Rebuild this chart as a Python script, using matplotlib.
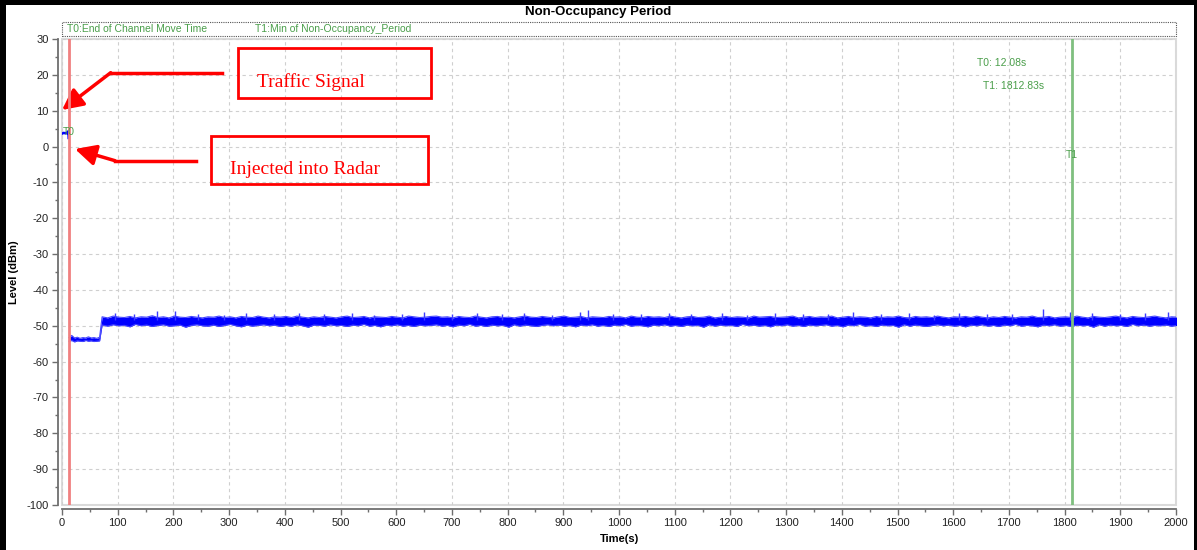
import matplotlib
matplotlib.use("Agg")
import matplotlib.pyplot as plt
import matplotlib.ticker as ticker
from matplotlib.patches import Rectangle
from matplotlib.lines import Line2D

plt.rcParams["axes.unicode_minus"] = False

# 圖面尺寸 (像素)
W, H = 1197, 550

# 標記位置
t0_mark = 12.08
t1_mark = 1812.83

# Traffic signal 小段 (time s, level dBm)
sig_t = [0, 3, 6, 9, 11, 11.5, 12]
sig_v = [3.6, 3.8, 3.7, 3.9, 3.6, 4.3, 2.4]

# 注入雷達後低電平段: 每 5 s 的上緣 / 下緣
low_start = 12.5
low_step = 5
low_hi = [-53.3, -52.7, -53.4, -53.2, -53.5, -53.3, -53.4, -53.1, -53.4, -53.3, -53.5, -53.2]
low_lo = [-54.3, -54.1, -54.5, -54.2, -54.3, -54.4, -54.1, -54.3, -54.2, -54.4, -54.3, -54.2]

# 72 s 之後的雜訊段: 每 10 s 的核心上緣 / 下緣
main_start = 72
main_step = 10
main_hi = [
    -47.5, -47.8, -47.3, -47.6, -47.7, -47.4, -47.8, -47.5, -47.6, -47.2,
    -47.7, -47.5, -47.8, -47.3, -47.6, -47.7, -47.4, -47.6, -47.8, -47.5,
    -47.6, -47.3, -47.7, -47.5, -47.8, -47.4, -47.6, -47.7, -47.3, -47.6,
    -47.8, -47.5, -47.6, -47.4, -47.7, -47.3, -47.6, -47.8, -47.5, -47.7,
    -47.4, -47.6, -47.8, -47.5, -47.3, -47.7, -47.6, -47.4, -47.8, -47.5,
    -47.6, -47.7, -47.4, -47.6, -47.8, -47.3, -47.5, -47.7, -47.6, -47.4,
    -47.3, -47.6, -47.5, -47.8, -47.4, -47.6, -47.7, -47.3, -47.6, -47.8,
    -47.5, -47.4, -47.7, -47.6, -47.8, -47.5, -47.3, -47.6, -47.7, -47.4,
    -47.6, -47.8, -47.5, -47.3, -47.7, -47.6, -47.4, -47.8, -47.5, -47.6,
    -47.7, -47.4, -47.6, -47.5, -47.8, -47.3, -47.6, -47.7, -47.4, -47.6,
    -47.5, -47.7, -47.3, -47.6, -47.8, -47.5, -47.4, -47.7, -47.6, -47.3,
    -47.8, -47.6, -47.4, -47.7, -47.5, -47.6, -47.8, -47.3, -47.6, -47.5,
    -47.4, -47.7, -47.6, -47.5, -47.3, -47.8, -47.6, -47.4, -47.7, -47.5,
    -47.6, -47.3, -47.8, -47.6, -47.4, -47.7, -47.5, -47.6, -47.8, -47.4,
    -47.7, -47.5, -47.6, -47.3, -47.7, -47.8, -47.4, -47.6, -47.5, -47.7,
    -47.3, -47.6, -47.8, -47.5, -47.6, -47.4, -47.7, -47.3, -47.6, -47.8,
    -47.5, -47.7, -47.4, -47.6, -47.8, -47.5, -47.6, -47.3, -47.7, -47.6,
    -47.4, -47.8, -47.6, -47.5, -47.7, -47.3, -47.6, -47.8, -47.4, -47.6,
    -47.7, -47.5, -47.3, -47.6, -47.8, -47.4, -47.6, -47.7, -47.5, -47.3,
    -47.6, -47.8, -47.5, -47.6,
]
main_lo = [
    -49.8, -50.1, -49.7, -50.0, -49.9, -50.3, -49.6, -50.0, -49.8, -50.2,
    -49.9, -49.7, -50.1, -50.0, -49.8, -50.4, -49.9, -49.7, -50.0, -50.1,
    -49.8, -50.2, -49.9, -49.6, -50.0, -50.3, -49.8, -50.1, -49.9, -49.7,
    -50.0, -49.8, -50.2, -49.9, -50.1, -49.7, -50.0, -50.4, -49.8, -49.9,
    -50.1, -49.7, -50.0, -49.9, -50.2, -49.8, -50.0, -49.6, -50.1, -49.9,
    -50.3, -49.8, -50.0, -49.7, -50.1, -49.9, -50.2, -49.8, -50.0, -49.9,
    -49.7, -50.1, -49.9, -50.3, -49.8, -50.0, -49.6, -50.1, -49.9, -50.2,
    -49.8, -50.0, -49.9, -50.4, -49.7, -50.1, -49.8, -50.0, -50.2, -49.9,
    -49.7, -50.0, -49.8, -50.1, -49.9, -50.3, -49.8, -50.0, -49.7, -50.1,
    -49.9, -50.2, -49.8, -50.0, -49.6, -50.1, -49.9, -50.0, -50.3, -49.8,
    -50.0, -49.7, -50.1, -49.9, -50.2, -49.8, -50.0, -49.9, -50.4, -49.7,
    -50.1, -49.8, -50.0, -49.9, -50.2, -49.6, -50.0, -49.8, -50.1, -49.9,
    -50.3, -49.8, -50.0, -49.7, -50.1, -49.9, -50.2, -49.8, -50.0, -49.9,
    -49.7, -50.1, -49.9, -50.3, -49.8, -50.0, -49.6, -50.1, -49.9, -50.2,
    -49.8, -50.0, -49.9, -50.4, -49.7, -50.1, -49.8, -50.0, -50.2, -49.9,
    -49.7, -50.0, -49.8, -50.1, -49.9, -50.3, -49.8, -50.0, -49.7, -50.1,
    -49.9, -50.2, -49.8, -50.0, -49.6, -50.1, -49.9, -50.0, -50.3, -49.8,
    -50.0, -49.7, -50.1, -49.9, -50.2, -49.8, -50.0, -49.9, -50.4, -49.7,
    -50.1, -49.8, -50.0, -49.9, -50.2, -49.6, -50.0, -49.8, -50.1, -49.9,
    -50.0, -49.8, -50.1, -49.9,
]

# 雜訊尖峰 (time s, peak dBm)
spike_t = [95, 130, 170, 203, 245, 290, 330, 380, 425, 470, 520, 560, 610, 650, 700,
           745, 790, 830, 880, 930, 945, 990, 1040, 1090, 1130, 1185, 1230, 1280, 1330,
           1375, 1420, 1470, 1520, 1565, 1610, 1660, 1705, 1762, 1810, 1850, 1900, 1945, 1985]
spike_v = [-46.5, -46.8, -45.8, -46.0, -46.6, -46.9, -46.4, -46.7, -46.3, -46.8, -46.5,
           -46.9, -46.6, -46.2, -46.8, -46.5, -46.7, -46.4, -46.9, -46.1, -45.7, -46.6,
           -46.8, -46.3, -46.7, -46.5, -46.9, -46.4, -46.6, -46.8, -46.2, -46.7, -46.5,
           -46.9, -46.4, -46.6, -46.8, -45.2, -46.1, -46.5, -46.7, -46.4, -46.2]

GREEN = "#4a9e4a"
SANS = "Liberation Sans"
SERIF = "Liberation Serif"


def px(x, y):
    # 像素座標 (左上原點) 轉成 figure fraction
    return x / W, 1 - y / H


fig = plt.figure(figsize=(W / 100, H / 100), dpi=100)
ax = fig.add_axes([62 / W, 1 - 505 / H, (1176 - 62) / W, (505 - 39) / H])

ax.set_xlim(0, 2000)
ax.set_ylim(-100, 30)
ax.xaxis.set_major_locator(ticker.MultipleLocator(100))
ax.xaxis.set_minor_locator(ticker.MultipleLocator(50))
ax.yaxis.set_major_locator(ticker.MultipleLocator(10))
ax.yaxis.set_minor_locator(ticker.MultipleLocator(5))

ax.grid(True, which="major", color="#cfcfcf", linestyle=(0, (3, 3)), lw=0.8)
ax.set_axisbelow(True)

# 外框與軸線
for s in ("top", "right"):
    ax.spines[s].set_visible(False)
for s in ("left", "bottom"):
    ax.spines[s].set_position(("outward", 3))
    ax.spines[s].set_color("#6e6e6e")
    ax.spines[s].set_linewidth(1.3)
ax.add_patch(Rectangle((0, 0), 1, 1, transform=ax.transAxes, fill=False,
                       edgecolor="#dadada", lw=1.5, clip_on=False, zorder=0.5))

ax.tick_params(which="major", length=4, width=1, color="#6e6e6e", pad=2.5,
               labelsize=8, labelcolor="#222222")
ax.tick_params(which="minor", length=2.5, width=1, color="#6e6e6e")
for lab in ax.get_xticklabels() + ax.get_yticklabels():
    lab.set_fontfamily(SANS)

# 軌跡: 上下緣之間填滿, 再描邊讓邊緣呈鋸齒
tr_t = [low_start + i * low_step for i in range(len(low_hi))] + \
       [main_start + i * main_step for i in range(len(main_hi))]
tr_hi = low_hi + main_hi
tr_lo = low_lo + main_lo
ax.fill_between(tr_t, tr_lo, tr_hi, color="#0000ff", lw=0, zorder=3)
ax.plot(tr_t, tr_hi, color="#4646ff", lw=0.8, zorder=3)
ax.plot(tr_t, tr_lo, color="#4646ff", lw=0.8, zorder=3)
ax.vlines(spike_t, -48.5, spike_v, color="#3c3cff", lw=1.0, zorder=3)
ax.plot(sig_t, sig_v, color="#0000ff", lw=1.8, zorder=3)

# 標記線
ax.axvline(t0_mark, color="#f08080", lw=2, zorder=4)
ax.axvline(t1_mark, color="#7fbf7f", lw=2, zorder=4)
ax.text(t0_mark, 4, "T0", color=GREEN, fontsize=7.5, family=SANS, ha="center", va="center", zorder=5)
ax.text(t1_mark, -2.4, "T1", color=GREEN, fontsize=7.5, family=SANS, ha="center", va="center", zorder=5)
ax.text(1643, 23.3, f"T0: {t0_mark:.2f}s", color=GREEN, fontsize=7.5, family=SANS, va="center")
ax.text(1653, 16.9, f"T1: {t1_mark:.2f}s", color=GREEN, fontsize=7.5, family=SANS, va="center")

# 上方圖例框
ax.add_patch(Rectangle((0, 1 + 3.5 / 466), 1, 13.5 / 466, transform=ax.transAxes,
                       fill=False, edgecolor="#555555", lw=0.8, linestyle=(0, (1, 1)),
                       clip_on=False))
ax.text(5 / 1114, 1 + 10.3 / 466, "T0:End of Channel Move Time", transform=ax.transAxes,
        color=GREEN, fontsize=7.5, family=SANS, va="center")
ax.text(193 / 1114, 1 + 10.3 / 466, "T1:Min of Non-Occupancy_Period", transform=ax.transAxes,
        color=GREEN, fontsize=7.5, family=SANS, va="center")

ax.set_xlabel("Time(s)", fontsize=8, fontweight="bold", family=SANS, labelpad=4)
ax.set_ylabel("Level (dBm)", fontsize=8, fontweight="bold", family=SANS)
ax.yaxis.set_label_coords(-43 / 1114, 0.5)
fig.text(0.5, 1 - 12 / H, "Non-Occupancy Period", ha="center", va="center",
         fontsize=9.5, fontweight="bold", family=SANS)

# 紅色註解框
for (x0, y0, x1, y1), txt, tx, ty in [
    ((238, 48.5, 431.5, 97.5), "Traffic Signal", 257, 82),
    ((211, 136, 428, 184), "Injected into Radar", 230, 170),
]:
    bx, by = px(x0, y1)
    fig.add_artist(Rectangle((bx, by), (x1 - x0) / W, (y1 - y0) / H, transform=fig.transFigure,
                             fill=False, edgecolor="#ff0000", lw=2))
    fig.text(*px(tx, ty), txt, color="#ff0000", fontsize=14, family=SERIF, va="center")

# 紅色箭頭 (折線 + 箭頭)
for pts in [
    [(222, 72.7), (110.7, 72.7), (62, 110)],
    [(196, 160.7), (115, 160.7), (75, 149)],
]:
    xs, ys = zip(*[px(*p) for p in pts[:2]])
    fig.add_artist(Line2D(xs, ys, transform=fig.transFigure, color="#ff0000", lw=2.5))
    ax.annotate("", xy=px(*pts[2]), xycoords="figure fraction",
                xytext=px(*pts[1]), textcoords="figure fraction",
                arrowprops=dict(arrowstyle="-|>,head_length=0.9,head_width=0.45",
                                color="#ff0000", lw=2.5, shrinkA=0, shrinkB=0,
                                mutation_scale=14),
                annotation_clip=False)

# 黑色外框 (左, 上, 右)
for x0, y0, x1, y1 in [(0, 0, 6, H), (0, 0, W, 4.5), (1194, 0, W, H)]:
    bx, by = px(x0, y1)
    fig.add_artist(Rectangle((bx, by), (x1 - x0) / W, (y1 - y0) / H, transform=fig.transFigure,
                             color="black", lw=0))

fig.savefig("out.png", dpi=100)
